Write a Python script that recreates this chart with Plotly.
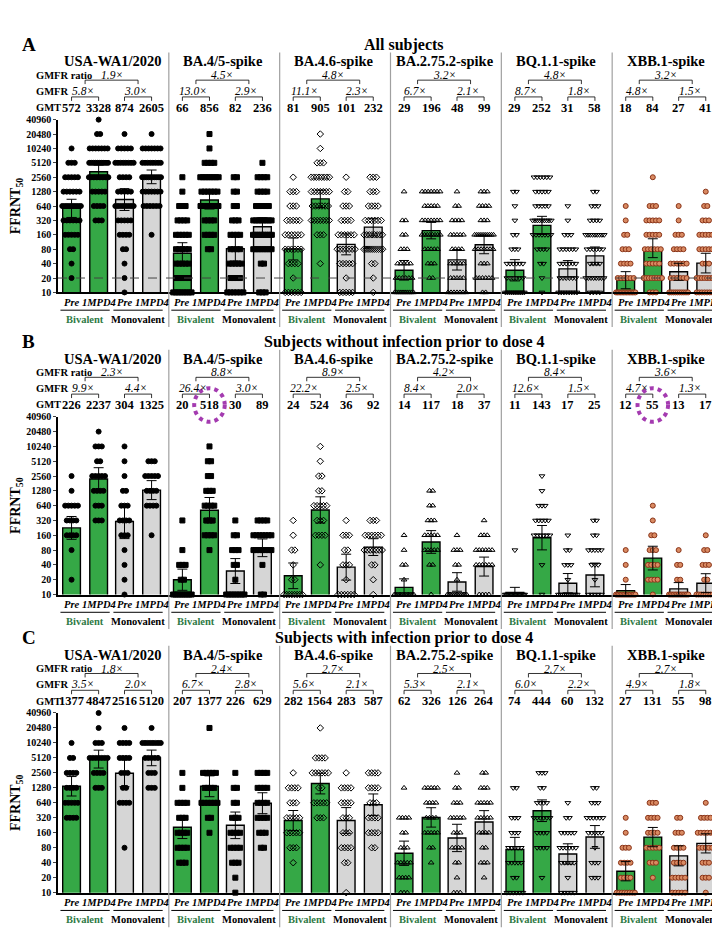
import numpy as np
import plotly.graph_objects as go

# titer levels used for the per-level counts below
levels = [10, 20, 40, 80, 160, 320, 640, 1280, 2560, 5120, 10240, 20480, 40960]
variants = ["USA-WA1/2020", "BA.4/5-spike", "BA.4.6-spike", "BA.2.75.2-spike", "BQ.1.1-spike", "XBB.1-spike"]
groups = ["Pre", "1MPD4", "Pre", "1MPD4"]
panel_letters = ["A", "B", "C"]
panel_titles = ["All subjects", "Subjects without infection prior to dose 4", "Subjects with infection prior to dose 4"]

# GMT per variant: [Biv Pre, Biv 1MPD4, Mono Pre, Mono 1MPD4]
gmt_a = [[572, 3328, 874, 2605], [66, 856, 82, 236], [81, 905, 101, 232],
         [29, 196, 48, 99], [29, 252, 31, 58], [18, 84, 27, 41]]
gmt_b = [[226, 2237, 304, 1325], [20, 518, 30, 89], [24, 524, 36, 92],
         [14, 117, 18, 37], [11, 143, 17, 25], [12, 55, 13, 17]]
gmt_c = [[1377, 4847, 2516, 5120], [207, 1377, 226, 629], [282, 1564, 283, 587],
         [62, 326, 126, 264], [74, 444, 60, 132], [27, 131, 55, 98]]

# GMFR per variant: [Bivalent, Monovalent, ratio]
gmfr_a = [["5.8", "3.0", "1.9"], ["13.0", "2.9", "4.5"], ["11.1", "2.3", "4.8"],
          ["6.7", "2.1", "3.2"], ["8.7", "1.8", "4.8"], ["4.8", "1.5", "3.2"]]
gmfr_b = [["9.9", "4.4", "2.3"], ["26.4", "3.0", "8.8"], ["22.2", "2.5", "8.9"],
          ["8.4", "2.0", "4.2"], ["12.6", "1.5", "8.4"], ["4.7", "1.3", "3.6"]]
gmfr_c = [["3.5", "2.0", "1.8"], ["6.7", "2.8", "2.4"], ["5.6", "2.1", "2.7"],
          ["5.3", "2.1", "2.5"], ["6.0", "2.2", "2.7"], ["4.9", "1.8", "2.7"]]

# number of subjects at each titer level (estimated from the dot plots)
counts_a = [
    [[0, 1, 1, 2, 5, 6, 9, 6, 5, 3, 1], [0, 0, 0, 0, 0, 3, 4, 5, 14, 10, 7, 2, 1],
     [1, 1, 1, 2, 4, 5, 8, 5, 4, 8, 5, 1], [0, 0, 0, 0, 1, 0, 6, 7, 10, 8, 7, 1]],
    [[8, 5, 5, 5, 5, 4, 3, 1, 1], [0, 0, 0, 2, 4, 4, 7, 6, 8, 4, 1, 1],
     [6, 4, 5, 4, 4, 3, 2, 2, 2], [3, 0, 2, 8, 10, 8, 5, 4, 4, 1]],
    [[6, 1, 4, 6, 6, 5, 3, 3, 1], [0, 0, 1, 0, 3, 7, 6, 7, 8, 3, 1, 1],
     [5, 1, 5, 7, 6, 4, 3, 2, 1], [1, 1, 2, 10, 8, 6, 4, 3, 3]],
    [[10, 6, 5, 3, 2, 2, 0, 1], [0, 2, 3, 5, 8, 7, 5, 7],
     [7, 5, 5, 4, 5, 4, 2, 1], [2, 6, 3, 7, 10, 3, 4, 3]],
    [[10, 6, 6, 3, 2, 1, 1, 2], [1, 1, 2, 4, 7, 9, 5, 5, 6],
     [8, 6, 6, 6, 3, 1, 1], [4, 8, 4, 6, 9, 4, 3, 2]],
    [[14, 6, 4, 3, 2, 1, 1], [3, 8, 5, 6, 5, 5, 3, 0, 1],
     [10, 6, 6, 4, 3, 1, 1], [8, 8, 3, 5, 5, 3, 2, 1]],
]
counts_b = [
    [[0, 1, 0, 1, 4, 4, 5, 1, 1], [0, 0, 0, 0, 0, 3, 3, 4, 5, 2, 3, 1],
     [1, 1, 1, 1, 3, 4, 3, 2, 1, 1, 1], [0, 0, 0, 0, 1, 0, 4, 4, 5, 3]],
    [[9, 2, 3, 1, 0, 1], [0, 0, 0, 1, 4, 3, 4, 3, 2, 2, 1],
     [8, 1, 2, 3, 2, 1], [2, 0, 1, 7, 7, 4]],
    [[8, 2, 1, 2, 1, 1], [0, 0, 1, 0, 4, 3, 5, 2, 2, 1, 1],
     [6, 1, 3, 2, 3, 1], [1, 1, 2, 7, 6, 3]],
    [[13, 1, 2, 1, 1], [1, 0, 2, 5, 5, 3, 2, 2],
     [12, 1, 2, 3, 1], [4, 0, 6, 6, 3, 1]],
    [[16, 0, 0, 1], [1, 0, 1, 0, 6, 5, 3, 1, 1],
     [10, 1, 3, 2, 1], [5, 1, 3, 5, 2, 2]],
    [[14, 1, 1, 1], [1, 4, 4, 3, 2, 1, 1],
     [13, 2, 2, 1], [9, 2, 3, 2, 1]],
]
counts_c = [
    [[0, 0, 0, 0, 0, 4, 5, 4, 4, 2, 1], [0, 0, 0, 0, 0, 0, 0, 3, 4, 7, 3, 1, 1],
     [0, 0, 0, 1, 0, 0, 4, 2, 3, 4, 4, 1], [0, 0, 0, 0, 0, 0, 0, 3, 3, 5, 8, 1]],
    [[0, 0, 3, 4, 4, 3, 4, 1, 1], [0, 0, 0, 0, 1, 2, 6, 4, 5, 0, 0, 1],
     [1, 1, 3, 4, 4, 3, 2, 2, 1], [0, 0, 0, 2, 3, 4, 4, 4, 4]],
    [[0, 0, 1, 3, 5, 5, 3, 4, 1], [0, 0, 0, 0, 0, 3, 5, 2, 6, 4, 0, 1],
     [1, 0, 2, 4, 3, 3, 4, 4, 1], [0, 0, 0, 2, 4, 4, 3, 4, 4]],
    [[3, 4, 5, 3, 2, 4, 0, 1], [0, 0, 1, 2, 5, 4, 4, 5],
     [3, 1, 2, 4, 3, 5, 3, 2, 1], [0, 1, 3, 2, 4, 5, 5, 3, 2]],
    [[6, 2, 5, 5, 3, 3, 0, 2], [0, 1, 0, 4, 4, 6, 4, 2, 3],
     [5, 1, 5, 6, 5, 2, 1], [0, 3, 3, 1, 5, 6, 3, 2]],
    [[8, 4, 4, 3, 1, 1], [0, 1, 3, 5, 4, 4, 3],
     [5, 5, 4, 4, 3, 2], [1, 3, 3, 5, 6, 4, 1]],
]

panels = [(gmt_a, gmfr_a, counts_a), (gmt_b, gmfr_b, counts_b), (gmt_c, gmfr_c, counts_c)]

H, W = 943, 720
FONT = "Liberation Serif"
GREEN = "#35a846"
GREY = "#d6d6d6"
symbols = ["circle", "square", "diamond-open", "triangle-up-open", "triangle-down-open", "circle"]
# plot top / bottom in pixels for each panel
plot_px = [(107, 282), (408, 588), (708, 890)]
VW = 4.5
gx = [0.05, 1.15, 2.2, 3.3]


def py(px):
    return 1 - px / H


def note(x, y, text, size, xref="paper", color="black", xanchor="center"):
    return dict(x=x, y=y, xref=xref, yref="paper", text=text, showarrow=False, xanchor=xanchor,
                yanchor="middle", font=dict(size=size, family=FONT, color=color))


fig = go.Figure()
annotations, shapes = [], []

for p, (gmt, gmfr, counts) in enumerate(panels):
    sfx = "" if p == 0 else str(p + 1)
    xa, ya = "x" + sfx, "y" + sfx
    top, bot = plot_px[p]
    for v in range(6):
        for g in range(4):
            x0 = v * VW + gx[g]
            fig.add_trace(go.Bar(
                x=[x0], y=[gmt[v][g]], width=0.72, xaxis=xa, yaxis=ya,
                marker=dict(color=GREEN if g < 2 else GREY, line=dict(color="black", width=1.4)),
                showlegend=False, hoverinfo="skip"))
            # points arranged in rows per titer level
            xs, ys, logs = [], [], []
            for k, c in enumerate(counts[v][g]):
                d = min(0.13, 0.85 / max(c, 1))
                for i in range(c):
                    xs.append(x0 + (i - (c - 1) / 2) * d)
                    ys.append(levels[k])
                    logs.append(np.log10(levels[k]))
            logs = np.array(logs)
            half = 1.96 * logs.std(ddof=1) / np.sqrt(len(logs))
            if v == 5:
                mk = dict(symbol="circle", size=5, color="#d98a62", line=dict(color="#8a3418", width=1))
            else:
                mk = dict(symbol=symbols[v], size=5, color="black", line=dict(color="black", width=1))
            fig.add_trace(go.Scatter(
                x=xs, y=ys, mode="markers", marker=mk, xaxis=xa, yaxis=ya,
                cliponaxis=False, showlegend=False, hoverinfo="skip"))
            lg = np.log10(gmt[v][g])
            fig.add_trace(go.Scatter(
                x=[x0], y=[gmt[v][g]], mode="markers", marker=dict(size=1, color="rgba(0,0,0,0)"),
                error_y=dict(type="data", symmetric=False, array=[10 ** (lg + half) - gmt[v][g]],
                             arrayminus=[gmt[v][g] - 10 ** (lg - half)], color="black", thickness=1, width=5),
                xaxis=xa, yaxis=ya, showlegend=False, hoverinfo="skip"))

            # GMT and x labels
            annotations.append(note(x0, py(top - 12), f"<b>{gmt[v][g]}</b>", 12.5, xref=xa))
            annotations.append(note(x0, py(bot + 10), f"<b><i>{groups[g]}</i></b>", 10.5, xref=xa))
        vx = v * VW
        # group underlines and names
        for gi, (name, col) in enumerate([("Bivalent", "#2f7a46"), ("Monovalent", "black")]):
            a, b = vx + gx[2 * gi], vx + gx[2 * gi + 1]
            shapes.append(dict(type="line", xref=xa, yref="paper", x0=a - 0.45, x1=b + 0.45,
                               y0=py(bot + 18), y1=py(bot + 18), line=dict(color="black", width=1)))
            annotations.append(note((a + b) / 2, py(bot + 27), f"<b>{name}</b>", 10.5, xref=xa, color=col))
            # GMFR bracket
            shapes.append(dict(type="path", xref=xa, yref="paper", line=dict(color="black", width=0.8),
                               path=f"M {a},{py(top - 19)} L {a},{py(top - 23)} L {b},{py(top - 23)} L {b},{py(top - 19)}"))
            annotations.append(note((a + b) / 2 - 0.1, py(top - 29), f"<i>{gmfr[v][gi]}×</i>", 11.5, xref=xa))
        ra, rb = vx + (gx[0] + gx[1]) / 2, vx + (gx[2] + gx[3]) / 2
        shapes.append(dict(type="path", xref=xa, yref="paper", line=dict(color="black", width=0.8),
                           path=f"M {ra},{py(top - 36)} L {ra},{py(top - 40)} L {rb},{py(top - 40)} L {rb},{py(top - 36)}"))
        annotations.append(note((ra + rb) / 2, py(top - 45), f"<i>{gmfr[v][2]}×</i>", 11.5, xref=xa))
        annotations.append(note(vx + 1.7, py(top - 59), f"<b>{variants[v]}</b>", 14.5, xref=xa))
        if v > 0:
            shapes.append(dict(type="line", xref=xa, yref="paper", x0=vx - 0.5, x1=vx - 0.5,
                               y0=py(top - 68), y1=py(bot + 35), line=dict(color="#a0a0a0", width=1.2)))
    # row labels
    for lbl, off in [("GMFR ratio", 45), ("GMFR", 29), ("GMT", 12)]:
        annotations.append(note(26 / W, py(top - off), f"<b>{lbl}</b>", 10.5, xanchor="left"))
    annotations.append(note(12 / W, py(top - 76), f"<b>{panel_letters[p]}</b>", 19, xanchor="left"))
    annotations.append(note(0.55, py(top - 76), f"<b>{panel_titles[p]}</b>", 16))
    if p == 0:
        shapes.append(dict(type="line", xref="x domain", yref=ya, x0=0, x1=1, y0=20, y1=20,
                           line=dict(color="#444", width=1, dash="dash")))
    fig.layout["xaxis" + sfx] = dict(domain=[50 / W, 715 / W], range=[-0.5, 6 * VW - 0.5], showticklabels=False,
                                     showgrid=False, zeroline=False, anchor=ya, showline=True,
                                     linecolor="black", linewidth=2)
    fig.layout["yaxis" + sfx] = dict(domain=[py(bot), py(top)], type="log", range=[1, np.log10(40960)],
                                     tickvals=levels, ticktext=[f"<b>{t}</b>" for t in levels], ticks="outside",
                                     ticklen=3, tickfont=dict(size=10, family=FONT), showline=True, linecolor="black",
                                     linewidth=1.5, showgrid=False, zeroline=False, anchor=xa,
                                     title=dict(text="<b>FFRNT<sub>50</sub></b>", font=dict(size=14, family=FONT),
                                                standoff=2))

# highlight circles in panel B
for v, g in [(1, 1), (5, 1)]:
    cx = v * VW + gx[g]
    shapes.append(dict(type="circle", xref="x2", yref="paper", x0=cx - 0.62, x1=cx + 0.62,
                       y0=py(408 - 12 + 17), y1=py(408 - 12 - 17),
                       line=dict(color="#a43bb0", width=4, dash="dot")))

fig.update_layout(width=W, height=H, margin=dict(l=0, r=0, t=0, b=0), plot_bgcolor="white",
                  paper_bgcolor="white", barmode="overlay", annotations=annotations, shapes=shapes,
                  font=dict(family=FONT, color="black"))
fig.write_html("out.html")
